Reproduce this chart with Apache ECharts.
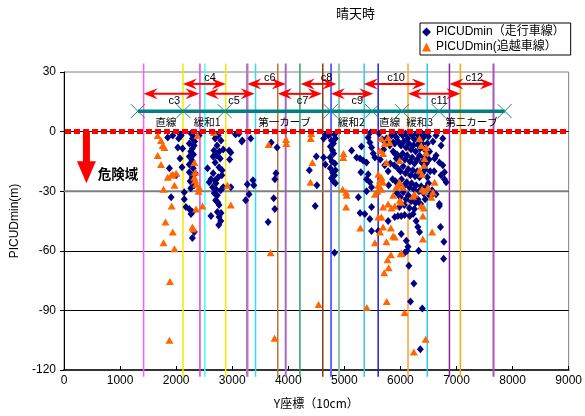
<!DOCTYPE html>
<html><head><meta charset="utf-8">
<script src="https://cdn.jsdelivr.net/npm/echarts@6/dist/echarts.min.js"></script>
<style>html,body{margin:0;padding:0;background:#fff}#c{width:585px;height:416px}</style>
</head><body><div id="c"></div>
<script>
// ---------- data ----------
const xTickValues = [0,1000,2000,3000,4000,5000,6000,7000,8000,9000];
const yTickValues = [-120,-90,-60,-30,0,30];

const drivingLane = [
[1850,-3],[1940,-2],[2045,-3.5],[2090,-2],[2265,-1],[2290,-3.5],[2030,-8],[2115,-8.5],[2290,-8.5],[2235,-6],[2070,-13.5],[2235,-12.5],[2285,-14.5],[2235,-16.5],[2305,-18.5],[2235,-20.5],[2285,-23],[2250,-25],[2320,-27],[2105,-18],[1880,-18.5],[2000,-22],[2620,-24],[2590,-25.5],[2560,-18.5],[2695,-3.5],[2730,-7],[2675,-9.5],[2715,-12],[2785,-13.5],[2695,-15.5],[2765,-18],[2820,-19.5],[2660,-21],[2750,-23],[2695,-24.5],[2800,-4.5],[2750,-2],[2945,-9.5],[2975,-10.5],[3120,-1],[3180,-4.5],[1910,-33],[2145,-30.5],[2145,-34],[2175,-38],[2235,-39],[2290,-40.5],[2265,-41.5],[2325,-50.5],[2290,-53.5],[2710,-29],[2795,-29.5],[2735,-32],[2705,-34.5],[2765,-37],[2735,-40.5],[2765,-43],[2795,-45],[2620,-42.5],[3270,-26.5],[3240,-34.5],[2410,-2],[2325,-3],
[2330,-5],[2260,-10],[2310,-11.5],[2340,-21],[2260,-28.5],[2320,-7],[2075,-1.5],[2680,-1],[2770,-10],[2710,-26],[2650,-28],[2840,-28],[2680,-31],[2740,-35.5],[2800,-41],[2760,-47],[2815,-22],[2660,-12.5],[2840,-9],
[3330,-3.5],[3170,-5],[3060,-1.5],[2955,-14],[2975,-28],[3300,-31.5],[3370,-24.5],[3385,-27],[3640,-45.5],[3760,-24],[3780,-21],[3740,-33.5],[3760,-39],[3800,-8],[3695,-5.5],[4375,-19.5],[4500,-12.5],[4510,-27],[4480,-37.5],[4630,-13],[4660,-16.5],[4745,-13],
[4630,-3.5],[4665,-1.5],[4715,-2],[4770,-4.5],[4805,-6],[4750,-7.5],[4790,-9.5],[4840,-3.5],[4825,-1.5],[4750,-18.5],[4790,-20.5],[4825,-22],[4840,-19.5],[4770,-23.5],[4805,-25],[4840,-26],[4825,-61],[4810,-11],[4780,-15],[4830,-16],
[5130,-9.5],[5305,-7.5],[5220,-13],[5280,-13.5],[5335,-14.5],[5395,-15.5],[5425,-3],[5455,-5.5],[5485,-8],[5465,-0.5],[5515,-11],[5545,-13],[5425,-21.5],[5395,-24],[5455,-25.5],[5485,-28],[4805,-22.5],[5250,-33],[5485,-38],[5485,-50],[5295,-20.5],[5395,-30],[5790,-27],
[5750,-6],[5810,-7],[5870,-5.5],[5900,-11],[5925,-13.5],[5840,-2],[5750,-3.5],[5620,-1],[5680,-4],[5700,-9],[5640,-14],[5720,-17],[5780,-20],[5650,-24],[5820,-16],[5860,-24],
[5880,-1],[5930,-3],[5990,-0.5],[6040,-2],[6090,-1],[6130,-3.5],[6170,-0.5],[6210,-2],[6250,-4],[6290,-1],[6330,-2.5],[6370,-0.5],[6410,-3],[6450,-1.5],[6500,-2.5],
[5900,-6],[5960,-5],[6010,-7],[6060,-5],[6100,-8],[6150,-6],[6190,-9],[6230,-7],[6270,-10],[6310,-6.5],[6350,-8.5],[6390,-6],[6430,-9],[6480,-6],[6520,-10],
[5870,-10],[5940,-11.5],[5990,-13],[6040,-11],[6080,-14],[6120,-12],[6170,-15],[6210,-13],[6250,-16],[6300,-14],[6340,-12],[6380,-15.5],[6420,-13],[6460,-16],[6510,-14],
[5890,-17],[5950,-18.5],[6000,-20],[6050,-17.5],[6090,-21],[6140,-19],[6180,-22],[6220,-19.5],[6260,-22.5],[6300,-20],[6340,-23],[6390,-21],[6440,-19],[6480,-23],[6530,-20],
[5910,-25],[5970,-26.5],[6020,-24],[6070,-27],[6110,-25.5],[6160,-28],[6200,-26],[6240,-29],[6280,-27],[6330,-30],[6370,-27.5],[6410,-31],[6460,-28],[6500,-26],
[5940,-31],[6000,-33],[6050,-30.5],[6100,-34],[6140,-32],[6190,-35],[6230,-33],[6270,-36],[6310,-34],[6360,-36.5],[6440,-34],[6520,-32],
[6070,-37],[6160,-38.5],[6250,-39],[5980,-38],
[5280,-41],[5365,-41.5],[5455,-44],[5605,-50],[5780,-45],[5900,-43],[5955,-42.5],[6015,-42.5],[6075,-42],[6165,-42.5],[6225,-41.5],[6280,-45],[6310,-48],[6340,-50.5],[6015,-51.5],[6105,-55],[6135,-58],[6075,-61],[6120,-60],[6325,-60],[6150,-67.5],[6240,-76.5],[6180,-85.5],[6390,-89],[6355,-109.5],[6695,-36.5],[6715,-48],[6775,-55.5],[6770,-64],
[6635,-2],[6755,-3.5],[6725,-7],[6635,-12],[6610,-13.5],[6695,-15.5],[6755,-17],[6785,-20.5],[6725,-22],[6785,-24],[6815,-25.5],[6550,-32],[6635,-31.5],[6565,-29.5],[6695,-37.5],[6580,-5],[6600,-20]
];

const passingLane = [
[1670,-2],[1730,-4.5],[1760,-7],[1790,-8],[1670,-12],[1730,-16.5],[1850,-23],[1910,-22],[1940,-21.5],[2000,-21],[1970,-27],[1775,-29],[2325,-15.5],[2340,-20.5],[2325,-23],[2340,-24.5],[2355,-26.5],[2410,-28],[2400,-30],[2380,-2],[2675,-0.5],[2915,-27],[1920,-37.5],[2470,-37.5],[2355,-39],[2975,-37],[1810,-45.5],[1940,-50.5],[2290,-48],[2305,-49],[1775,-56],[1970,-59],[1890,-75.5],[1880,-105],
[3685,-61],[3755,-104],[4540,-87],[5400,-88.5],[5830,-62],[5770,-64.5],[5790,-68.5],[5710,-71],[5755,-85.5],[6075,-91],[6005,-61.5],[6450,-104.5],[6240,-111],[3650,-6.5],[3960,-4],[3965,-6],[4400,-3.5],[4430,-15.5],[4395,-25.5],[4410,-1],[4980,-13],[4985,-11],[4970,-29],[5030,-30.5],[5040,-32],[5030,-38],[5285,-48.5],[5545,-56],
[5660,-3.5],[5720,-6],[5780,-3],[5810,-5.5],[5635,-9.5],[5690,-11],[5750,-15.5],[5605,-21.5],[5660,-23],[5635,-24.5],[5690,-25.5],[5605,-27],[5545,-31.5],[5590,-30],[5660,-29],[5955,-27],[5985,-25.5],[6045,-28],[5985,-14.5],[6225,-32.5],[6255,-31.5],[6340,-19.5],[6385,-21.5],[6420,-17],[6430,-13.5],[6460,-10.5],[6370,-7],[6340,-3.5],[6460,-8],[6385,-29],[6430,-30],[6490,-28],[6610,-25.5],[6580,-30.5],[6550,-33],[6370,-37.5],[6420,-38.5],[6400,-42.5],[6565,-50.5],[6400,-54],[6015,-35.5],[5870,-32],[5780,-36.5],[5690,-38],[5840,-38.5],[5900,-37.5],[5660,-43],[5605,-43],[5635,-50.5],[5750,-55.5],[5690,-48],[5830,-48.5],[5870,-52.5],[5900,-53],[6015,-61],[5925,-28],[5990,-34.5]
];

// section boundaries (vertical lines)
const boundaryX = [1420,2122,2424,2512,2884,3268,3416,3812,3954,4208,4615,4763,4905,5354,5603,6135,6478,6874,7069,7660];
// section division marks on the teal line
const sectionMarks = [1317,2128,2866,4757,5496,6028,6684,7860];
const sectionLevel = 10.3;
const sectionNames = ['直線','緩和1','第一カーブ','緩和2','直線','緩和3','第二カーブ'];
const sectionNameX = [1821,2553,3931,5124,5810,6342,7269];
const sectionNameY = 4.7;
// curve spans (double arrows)
const spanNames = ['c3','c4','c5','c6','c7','c8','c9','c10','c11','c12'];
const spanFrom  = [1420,2122,2512,3268,3812,4220,4760,5345,6135,6874];
const spanTo    = [2415,2884,3400,3954,4600,4860,5515,6455,7069,7665];
const spanLevel = [19.0,24.0,19.0,24.0,19.0,24.0,19.0,24.0,19.0,24.0];
const spanLabelX = [1968,2606,3032,3670,4255,4681,5230,5922,6697,7317];
const spanLabelY = [15.6,27.0,15.6,27.0,15.6,27.0,15.6,27.0,15.6,27.0];
// danger arrow
const dangerX = 400, dangerFrom = 0, dangerTo = -26;
const dangerLabel = '危険域', dangerLabelX = 600, dangerLabelY = -21.3;

// ---------- styles ----------
const boundaryColors = ['#ff5cff','#f2ea00','#e040e0','#40ffff','#f0ea00','#b878c0','#33ddee','#c07040','#a868c8','#30a060','#8b3a10','#6666ff','#88c8a8','#30c8f0','#2020e0','#ffa030','#30c8f0','#9020a0','#ffa500','#b050c0'];
const boundaryWidths = [1.5,1.5,1.5,1.5,1.5,2.5,1.5,1.5,2,1.5,1.5,2,2,1.5,1.5,1.5,1.5,1.5,1.5,2];
const FF = "'Liberation Sans','Noto Sans CJK JP',sans-serif";
const JF = "'Noto Sans CJK JP','Liberation Sans',sans-serif";
const RED = '#ff0000', TEAL = '#008080';

function arrowHead(tx, ty, dir, L, W, notch) {
  return [[tx,ty],[tx+dir*L,ty-W/2],[tx+dir*L*notch,ty],[tx+dir*L,ty+W/2]];
}

const chart = echarts.init(document.getElementById('c'), null, {renderer:'canvas'});

const option = {
  animation: false,
  backgroundColor: '#fff',
  title: {text:'晴天時', left: 336, top: 7, padding: 0,
    textStyle:{fontSize:13, fontWeight:'normal', color:'#000', fontFamily: JF}},
  legend: {
    left: 420, top: 23, orient:'vertical', padding:[3,6,2,2], itemGap: 3,
    itemWidth: 9, itemHeight: 9, borderColor:'#000', borderWidth:1, backgroundColor:'#fff',
    textStyle:{fontSize:12, color:'#000', fontFamily: FF},
    data:['PICUDmin（走行車線）','PICUDmin(追越車線）']
  },
  grid: {left:64, right:14, top:72, bottom:46, show:true, borderColor:'#808080', borderWidth:1, containLabel:false},
  xAxis: {
    type:'value', min:0, max:9000, interval:1000,
    name:'Y座標（10cm）', nameLocation:'middle', nameGap:27,
    nameTextStyle:{fontSize:12, color:'#000', fontFamily: JF},
    axisLine:{show:true, onZero:false, lineStyle:{color:'#333', width:2}},
    axisTick:{show:true, inside:true, length:4, lineStyle:{color:'#000'}},
    axisLabel:{margin:5, fontSize:12, color:'#000', fontFamily: FF, showMaxLabel:true, showMinLabel:true,
      formatter: v => String(v)},
    splitLine:{show:false}
  },
  yAxis: {
    type:'value', min:-120, max:30, interval:30,
    name:'PICUDmin(m)', nameLocation:'middle', nameGap:40,
    nameTextStyle:{fontSize:12, color:'#000', fontFamily: FF},
    axisLine:{show:true, onZero:false, lineStyle:{color:'#000', width:1}},
    axisTick:{show:true, inside:false, length:4, lineStyle:{color:'#000'}},
    axisLabel:{margin:8, fontSize:12, color:'#000', fontFamily: FF, formatter: v => String(v)},
    splitLine:{show:true, showMinLine:false, showMaxLine:false, lineStyle:{color:'#000', width:1}}
  },
  series: [
    { // boundary lines
      type:'custom', name:'boundaries', silent:true, clip:false, z:1,
      data: boundaryX.map(v=>[v]),
      encode:{x:0},
      renderItem:(params, api)=>{
        const x = api.value(0);
        const p1 = api.coord([x, 34.3]);
        const p2 = api.coord([x, -123.4]);
        return {type:'line', shape:{x1:p1[0],y1:p1[1],x2:p2[0],y2:p2[1]},
          style:{stroke:boundaryColors[params.dataIndex], lineWidth:boundaryWidths[params.dataIndex]}};
      }
    },
    { // -30 grey line
      type:'custom', name:'grey30', silent:true, clip:false, z:1,
      data:[[0,-30]],
      renderItem:(params, api)=>{
        const a = api.coord([0,-30]), b = api.coord([9000,-30]);
        return {type:'line', shape:{x1:a[0],y1:a[1],x2:b[0],y2:b[1]}, style:{stroke:'#808080', lineWidth:2}};
      }
    },
    {
      type:'scatter', name:'PICUDmin（走行車線）', z:2,
      symbol:'diamond', symbolSize:[7,8],
      itemStyle:{color:'#000080', opacity:1},
      data: drivingLane
    },
    {
      type:'scatter', name:'PICUDmin(追越車線）', z:3,
      symbol:'triangle', symbolSize:[8,7],
      itemStyle:{color:'#ff6600', opacity:1},
      data: passingLane
    },
    { // red dashed zero line
      type:'custom', name:'zero', silent:true, clip:false, z:4,
      data:[[0,0]],
      renderItem:(params, api)=>{
        const a = api.coord([0,0]), b = api.coord([9000,0]);
        return {type:'line', shape:{x1:a[0]+1,y1:a[1],x2:b[0]-2,y2:b[1]},
          style:{stroke:RED, lineWidth:5, lineDash:[6,3], lineCap:'butt'}};
      }
    },
    { // annotations
      type:'custom', name:'annot', silent:true, clip:false, z:5,
      data:[[0,0]],
      renderItem:(params, api)=>{
        const ch = [];
        // teal section line
        const s0 = api.coord([sectionMarks[0], sectionLevel]);
        const s1 = api.coord([sectionMarks[sectionMarks.length-1], sectionLevel]);
        ch.push({type:'line', shape:{x1:s0[0],y1:s0[1],x2:s1[0],y2:s1[1]}, style:{stroke:TEAL, lineWidth:3.5}});
        sectionMarks.forEach(v=>{
          const p = api.coord([v, sectionLevel]);
          const h = 7;
          ch.push({type:'line', shape:{x1:p[0]-h,y1:p[1]-h,x2:p[0]+h,y2:p[1]+h}, style:{stroke:'#1a8a8a', lineWidth:1}});
          ch.push({type:'line', shape:{x1:p[0]-h,y1:p[1]+h,x2:p[0]+h,y2:p[1]-h}, style:{stroke:'#1a8a8a', lineWidth:1}});
        });
        sectionNames.forEach((t,i)=>{
          const p = api.coord([sectionNameX[i], sectionNameY]);
          ch.push({type:'text', style:{text:t, x:p[0], y:p[1], align:'center', verticalAlign:'middle', fill:'#000', font:'10.5px '+JF}});
        });
        // double arrows
        spanNames.forEach((t,i)=>{
          const a = api.coord([spanFrom[i], spanLevel[i]]);
          const b = api.coord([spanTo[i], spanLevel[i]]);
          const L = 14, W = 11;
          ch.push({type:'line', shape:{x1:a[0]+L*0.6,y1:a[1],x2:b[0]-L*0.6,y2:b[1]}, style:{stroke:RED, lineWidth:2}});
          ch.push({type:'polygon', shape:{points:arrowHead(a[0],a[1],1,L,W,0.65)}, style:{fill:RED}});
          ch.push({type:'polygon', shape:{points:arrowHead(b[0],b[1],-1,L,W,0.65)}, style:{fill:RED}});
          const lp = api.coord([spanLabelX[i], spanLabelY[i]]);
          ch.push({type:'text', style:{text:t, x:lp[0], y:lp[1], align:'center', verticalAlign:'middle', fill:'#000', font:'11px '+FF}});
        });
        // danger arrow
        const d0 = api.coord([dangerX, dangerFrom]);
        const d1 = api.coord([dangerX, dangerTo]);
        const HL = 22, HW = 19, SW = 7;
        ch.push({type:'rect', shape:{x:d0[0]-SW/2, y:d0[1], width:SW, height:(d1[1]-HL)-d0[1]+1}, style:{fill:RED}});
        ch.push({type:'polygon', shape:{points:[[d1[0],d1[1]],[d1[0]-HW/2,d1[1]-HL],[d1[0]+HW/2,d1[1]-HL]]}, style:{fill:RED}});
        const dl = api.coord([dangerLabelX, dangerLabelY]);
        ch.push({type:'text', style:{text:dangerLabel, x:dl[0], y:dl[1], align:'left', verticalAlign:'middle', fill:'#000', font:'bold 13.5px '+JF}});
        return {type:'group', children:ch};
      }
    }
  ]
};
chart.setOption(option);
</script>
</body></html>
